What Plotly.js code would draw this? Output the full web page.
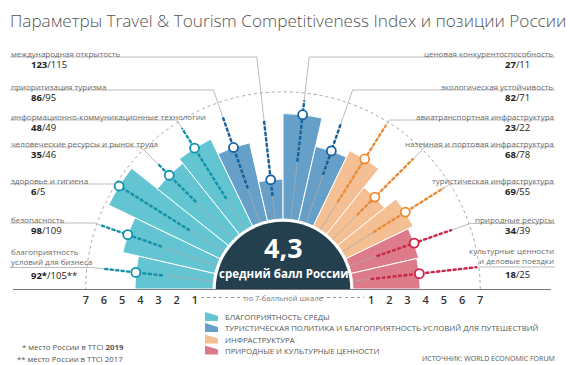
<!DOCTYPE html>
<html>
<head>
<meta charset="utf-8">
<script src="https://cdn.plot.ly/plotly-3.0.1.min.js"></script>
<style>html,body{margin:0;padding:0;background:#fff}#chart{width:570px;height:365px}</style>
</head>
<body>
<div id="chart"></div>
<script>
// ---------------- DATA ----------------
const categories = [
  'благоприятность условий для бизнеса',
  'безопасность',
  'здоровье и гигиена',
  'человеческие ресурсы и рынок труда',
  'информационно-коммуникационные технологии',
  'приоритизация туризма',
  'международная открытость',
  'ценовая конкурентоспособность',
  'экологическая устойчивость',
  'авиатранспортная инфраструктура',
  'наземная и портовая инфраструктура',
  'туристическая инфраструктура',
  'природные ресурсы',
  'культурные ценности и деловые поездки'
];
const groupNames = [
  'БЛАГОПРИЯТНОСТЬ СРЕДЫ',
  'ТУРИСТИЧЕСКАЯ ПОЛИТИКА И БЛАГОПРИЯТНОСТЬ УСЛОВИЙ ДЛЯ ПУТЕШЕСТВИЙ',
  'ИНФРАСТРУКТУРА',
  'ПРИРОДНЫЕ И КУЛЬТУРНЫЕ ЦЕННОСТИ'
];
const categoryGroup = [0,0,0,0,0,1,1,1,1,2,2,2,3,3];
const russiaScore   = [4.3,5.2,6.8,5.0,5.3,4.4,2.2,5.8,4.2,4.6,3.3,4.1,3.8,3.7];
const rank2019      = ['92*','98','6','35','48','86','123','27','82','23','68','69','34','18'];
const rank2017      = ['105**','109','5','46','49','95','115','11','71','22','78','55','39','25'];
const worldMin      = [2.8,3.2,2.2,2.9,2.0,2.0,1.3,3.2,2.8,1.8,1.9,2.0,1.6,1.0];
const worldMax      = [6.1,6.8,6.9,5.9,6.6,6.2,5.5,6.6,5.8,6.8,6.3,6.6,6.0,6.9];
const scaleTicks    = [1,2,3,4,5,6,7];
const averageScore  = 4.3;

// ---------------- STYLE / LAYOUT CONSTANTS ----------------
const W = 570, H = 365;
const CX = 283, CY = 289, RPX = 279;      // polar centre & radius in px
const HOLE = 3.85, RMAX = 11.5;           // radial range [-HOLE, RMAX]
const K = RPX / (RMAX + HOLE);            // px per score unit
const barColors  = ['#63c4d2','#66a0c9','#f4bf92','#de7b8a'];
const darkColors = ['#0e93ad','#15619f','#ee8b32','#cf2248'];
const labelLineY = [267.5,223,184,147,120,90,57, 57,90,120,147,184,223.5,267];
const FONT = 'Open Sans, Noto Sans, sans-serif';

const n = categories.length;
const thetaOf = i => 180 - (i + 0.5) * 180 / n;
const px = x => x / W, py = y => 1 - y / H;

const traces = [];
const shapes = [];
const annotations = [];

// dark centre
traces.push({
  type:'barpolar', r:[HOLE-0.15], base:[-HOLE], theta:[90], width:[180],
  marker:{color:'#24404f', line:{width:0}}, showlegend:false, hoverinfo:'skip'
});

// bars per group
groupNames.forEach((g, gi) => {
  const idx = categories.map((c,i)=>i).filter(i=>categoryGroup[i]===gi);
  traces.push({
    type:'barpolar', name:g,
    r: idx.map(i=>russiaScore[i]), base: idx.map(()=>0),
    theta: idx.map(thetaOf), width: idx.map(()=>180/n),
    marker:{color:barColors[gi], line:{color:'#ffffff', width:1}},
    showlegend:false, hoverinfo:'skip'
  });
});

// outer dotted arc at 7
const arcTheta = [], arcR = [];
for (let t = 0; t <= 180; t += 1) { arcTheta.push(t); arcR.push(scaleTicks[scaleTicks.length-1]); }
traces.push({type:'scatterpolar', mode:'lines', r:arcR, theta:arcTheta,
  line:{color:'#a8a8a8', width:1, dash:'dot'}, showlegend:false, hoverinfo:'skip'});

// leader lines (radial part) + horizontal underline shapes
categories.forEach((c, i) => {
  const t = thetaOf(i), th = t * Math.PI / 180;
  const dy = CY - labelLineY[i];
  const rInt = (dy / Math.sin(th)) / K - HOLE;
  const xInt = CX + dy * Math.cos(th) / Math.sin(th);
  traces.push({type:'scatterpolar', mode:'lines', r:[0, rInt], theta:[t, t],
    line:{color:'#ababab', width:0.8}, showlegend:false, hoverinfo:'skip'});
  const left = i < n/2;
  shapes.push({type:'line', xref:'paper', yref:'paper',
    x0: px(left ? 10 : xInt), x1: px(left ? xInt : 555),
    y0: py(labelLineY[i]), y1: py(labelLineY[i]),
    line:{color:'#ababab', width:0.8}});
});

// world distribution strips
categories.forEach((c, i) => {
  const t = thetaOf(i);
  traces.push({type:'scatterpolar', mode:'lines', r:[worldMin[i], worldMax[i]], theta:[t, t],
    line:{color:darkColors[categoryGroup[i]], width:2.4, dash:'4px,1.5px'},
    showlegend:false, hoverinfo:'skip'});
});

// Russia markers
groupNames.forEach((g, gi) => {
  const idx = categories.map((c,i)=>i).filter(i=>categoryGroup[i]===gi);
  traces.push({type:'scatterpolar', mode:'markers',
    r: idx.map(i=>russiaScore[i]), theta: idx.map(thetaOf),
    marker:{symbol:'circle', size:9, color:'#ffffff', line:{color:darkColors[gi], width:1.8}},
    showlegend:false, hoverinfo:'skip'});
});

// dummy cartesian trace for the baseline scale
traces.push({type:'scatter', x:[], y:[], xaxis:'x', yaxis:'y', showlegend:false});

// category labels and ranks
categories.forEach((c, i) => {
  const left = i < n/2;
  let txt = c;
  if (c === 'благоприятность условий для бизнеса') txt = 'благоприятность<br>условий для бизнеса';
  if (c === 'культурные ценности и деловые поездки') txt = 'культурные ценности<br>и деловые поездки';
  const twoLines = txt.indexOf('<br>') >= 0;
  annotations.push({xref:'paper', yref:'paper', x: px(left ? 9 : 556),
    y: py(labelLineY[i] - (twoLines ? 11.5 : 3.8)),
    xanchor: left ? 'left' : 'right', yanchor:'middle', showarrow:false,
    align: left ? 'left' : 'right', text: txt,
    font:{family:FONT, size:8, color:'#6a6a6a'}});
  annotations.push({xref:'paper', yref:'paper', x: px(left ? 29 : 532),
    y: py(labelLineY[i] + 7.5), xanchor: left ? 'left' : 'right', yanchor:'middle',
    showarrow:false, text:'<b>' + rank2019[i] + '</b>/' + rank2017[i],
    font:{family:FONT, size:9.5, color:'#222'}});
});

// centre text
annotations.push({xref:'paper', yref:'paper', x:px(CX), y:py(247), xanchor:'center', yanchor:'middle', showarrow:false,
  text:'<b>' + averageScore.toFixed(1).replace('.', ',') + '</b>',
  font:{family:FONT, size:27, color:'#ffffff'}});
annotations.push({xref:'paper', yref:'paper', x:px(CX), y:py(273.5), xanchor:'center', yanchor:'middle', showarrow:false,
  text:'<b>средний балл России</b>', font:{family:FONT, size:11.5, color:'#ffffff'}});

// scale caption
annotations.push({xref:'paper', yref:'paper', x:px(CX), y:py(297.5), xanchor:'center', yanchor:'middle', showarrow:false,
  text:'по 7-балльной шкале', font:{family:FONT, size:7.5, color:'#777'}});
shapes.push({type:'line', xref:'paper', yref:'paper', x0:px(201), x1:px(245), y0:py(297.5), y1:py(297.5),
  line:{color:'#999', width:1, dash:'dot'}});
shapes.push({type:'line', xref:'paper', yref:'paper', x0:px(321), x1:px(364), y0:py(297.5), y1:py(297.5),
  line:{color:'#999', width:1, dash:'dot'}});

// baseline
shapes.push({type:'line', xref:'paper', yref:'paper', x0:px(13), x1:px(551), y0:py(289.5), y1:py(289.5),
  line:{color:'#777', width:1}});

// legend (manual, compact)
const legendY = [317, 328, 339.5, 350.5];
groupNames.forEach((g, gi) => {
  const yc = legendY[gi];
  const p = [[205, yc+4],[205, yc-5],[218, yc-1],[218, yc+4]]
    .map((q,k)=>(k?'L ':'M ')+px(q[0])+' '+py(q[1])).join(' ') + ' Z';
  shapes.push({type:'path', xref:'paper', yref:'paper', path:p, fillcolor:barColors[gi], line:{width:0}});
  annotations.push({xref:'paper', yref:'paper', x:px(223), y:py(yc), xanchor:'left', yanchor:'middle',
    showarrow:false, text:g, font:{family:FONT, size:7.8, color:'#555'}});
});

// footnotes & source
annotations.push({xref:'paper', yref:'paper', x:px(20), y:py(347), xanchor:'left', yanchor:'middle', showarrow:false,
  text:'* место России в TTCI <b>2019</b>', font:{family:FONT, size:7.8, color:'#555'}});
annotations.push({xref:'paper', yref:'paper', x:px(15), y:py(359), xanchor:'left', yanchor:'middle', showarrow:false,
  text:'** место России в TTCI 2017', font:{family:FONT, size:7.8, color:'#555'}});
annotations.push({xref:'paper', yref:'paper', x:px(557), y:py(358), xanchor:'right', yanchor:'middle', showarrow:false,
  text:'ИСТОЧНИК: WORLD ECONOMIC FORUM', font:{family:FONT, size:7, color:'#555'}});

// title as a left-anchored annotation
annotations.push({xref:'paper', yref:'paper', x:px(8), y:py(20), xanchor:'left', yanchor:'middle', showarrow:false,
  text:'Параметры Travel & Tourism Competitiveness Index и позиции России',
  font:{family:FONT, size:17.2, color:'#555', weight:300}});

const tickVals = [], tickText = [];
scaleTicks.forEach(v => { tickVals.push(-(v + HOLE)); tickText.push(String(v)); });
scaleTicks.forEach(v => { tickVals.push(v + HOLE); tickText.push(String(v)); });

const layout = {
  width:W, height:H, margin:{l:0,r:0,t:0,b:0},
  paper_bgcolor:'#ffffff', plot_bgcolor:'rgba(0,0,0,0)',
  font:{family:FONT},
  polar:{
    domain:{x:[px(CX-RPX), px(CX+RPX)], y:[py(CY), py(CY-RPX)]},
    sector:[0,180], hole:0, bgcolor:'rgba(0,0,0,0)',
    radialaxis:{range:[-HOLE, RMAX], visible:false},
    angularaxis:{visible:false, direction:'counterclockwise', rotation:0}
  },
  xaxis:{domain:[px(CX-RPX), px(CX+RPX)], range:[-(RMAX+HOLE), RMAX+HOLE],
    tickmode:'array', tickvals:tickVals, ticktext:tickText, ticks:'',
    showgrid:false, zeroline:false, showline:false, anchor:'y', fixedrange:true,
    ticklabelstandoff:3,
    tickfont:{family:FONT, size:11, color:'#333', weight:600}},
  yaxis:{domain:[py(CY), py(CY-RPX)], range:[0,1], visible:false, fixedrange:true},
  shapes:shapes, annotations:annotations, showlegend:false
};

Plotly.newPlot('chart', traces, layout, {displayModeBar:false, staticPlot:true});
</script>
</body>
</html>
